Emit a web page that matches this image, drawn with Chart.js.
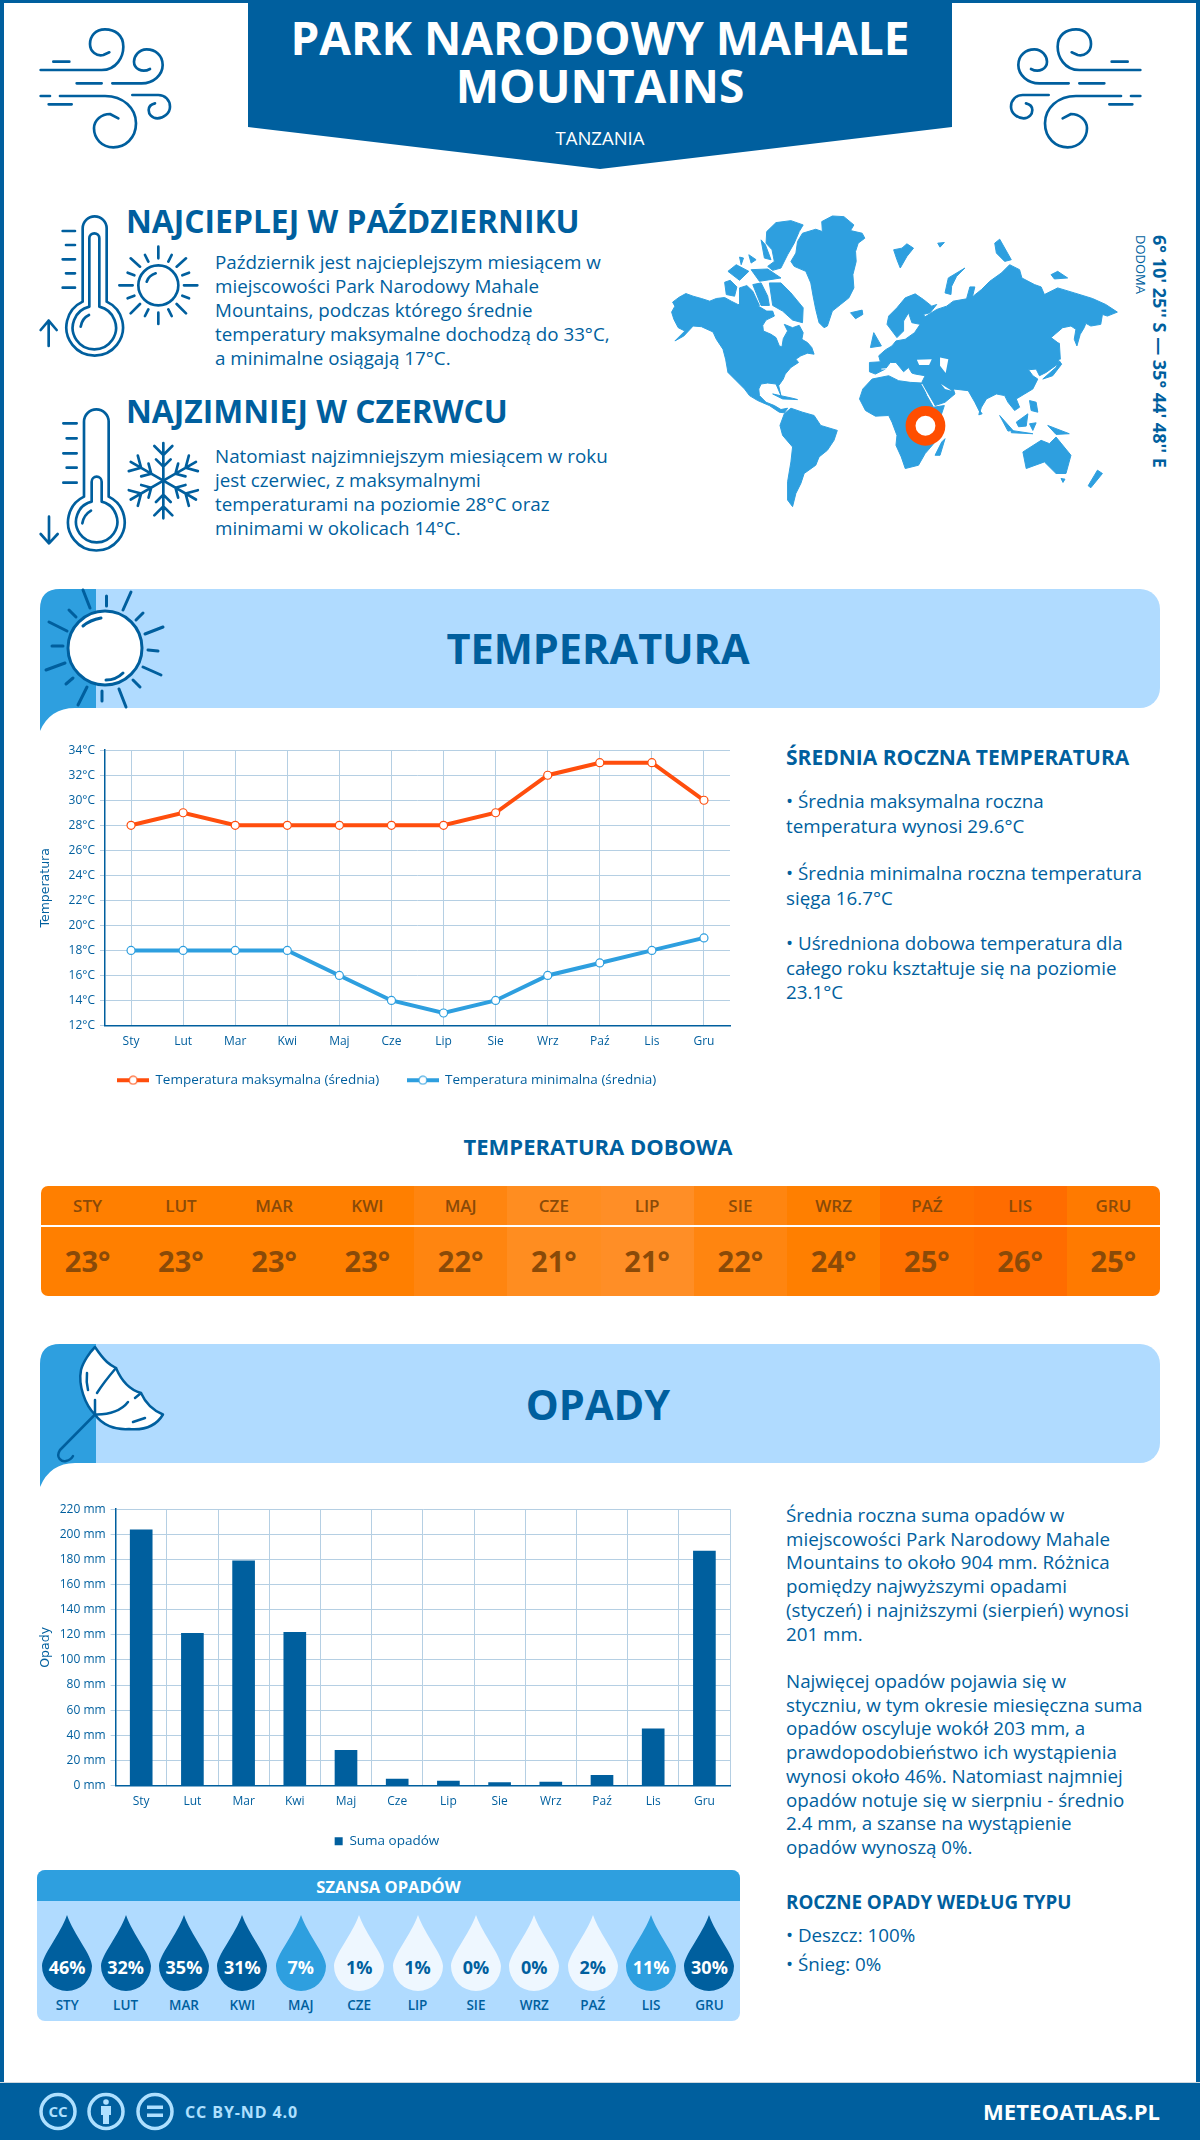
<!DOCTYPE html>
<html lang="pl">
<head>
<meta charset="UTF-8">
<title>Park Narodowy Mahale Mountains - pogoda</title>
<script src="https://cdn.jsdelivr.net/npm/chart.js@4"></script>
<style>
  html, body { margin: 0; padding: 0; background: #fff; }
  #page { position: relative; width: 1200px; height: 2140px; overflow: hidden; font-family: "Open Sans", sans-serif; color: #005f9e; }
  #page > * { position: absolute; }
  .frame { left: 0; top: 0; width: 1192px; height: 2136px; border: 4px solid #005f9e; border-top-width: 3px; }
  .nw { white-space: nowrap; }
  .title { left: 248px; width: 704px; top: 13px; text-align: center; color: #fff; font-size: 46px; line-height: 48px; font-weight: 700; }
  .country { left: 248px; width: 704px; top: 128px; text-align: center; color: #fff; font-size: 18.5px; line-height: 20px; }
  .h-month { left: 126px; font-size: 31.8px; line-height: 36px; font-weight: 700; }
  .para { left: 215px; font-size: 18.8px; line-height: 24px; }
  .band { left: 40px; width: 1120px; height: 119px; background: #b0dbff; border-radius: 20px; }
  .band-title { left: 40px; width: 1116px; text-align: center; font-size: 41.5px; line-height: 50px; font-weight: 700; }
  .side { left: 786px; font-size: 18.8px; line-height: 24.5px; }
  .side-h { left: 786px; font-size: 18.8px; line-height: 24px; font-weight: 700; }
  .sub { left: 40px; width: 1116px; text-align: center; font-size: 22px; line-height: 28px; font-weight: 700; }
  #strip { left: 41px; top: 1186px; width: 1119px; height: 110px; display: flex; border-radius: 7px; overflow: hidden; }
  #strip div.c { flex: 1; text-align: center; color: #8a4a08; position: relative; }
  #strip .m { position: absolute; left: 0; right: 0; top: 9px; font-size: 17px; line-height: 22px; font-weight: 600; }
  #strip .v { position: absolute; left: 0; right: 0; top: 55px; font-size: 29px; line-height: 40px; font-weight: 700; }
  .strip-line { left: 41px; top: 1225px; width: 1119px; height: 1.5px; background: #fff; }
  #chance { left: 37px; top: 1870px; width: 703px; height: 151px; background: #b0dbff; border-radius: 8px; overflow: hidden; }
  #chance .head { height: 31px; background: #2e9fdf; color: #fff; text-align: center; font-size: 16.5px; line-height: 33px; font-weight: 700; }
  #drops { position: absolute; left: 1px; top: 45px; width: 701px; height: 100px; display: flex; }
  #drops .d { width: 58.4px; position: relative; text-align: center; }
  #drops svg { position: absolute; left: 4.2px; top: 0; }
  #drops .p { position: absolute; left: 0; right: 0; top: 39px; font-size: 18px; line-height: 26px; font-weight: 700; }
  #drops .n { position: absolute; left: 0; right: 0; top: 81px; font-size: 13.5px; line-height: 18px; font-weight: 600; }
  .footer { left: 0; top: 2082px; width: 1200px; height: 58px; background: #005f9e; border-top: 1px solid #cfd8df; box-sizing: border-box; }
  .cc { left: 185px; top: 2100px; color: #aee0ff; font-size: 16px; line-height: 24px; font-weight: 700; letter-spacing: 0.9px; }
  .site { left: 983px; top: 2096px; color: #fff; font-size: 22px; line-height: 30px; font-weight: 700; letter-spacing: 0.1px; }
  .coord { left: 1150px; top: 235px; font-size: 18px; line-height: 20px; font-weight: 700; writing-mode: vertical-rl; }
  .capital { left: 1133px; top: 235px; font-size: 13px; line-height: 16px; writing-mode: vertical-rl; }
  svg { overflow: visible; }
  .ic { fill: none; stroke: #005f9e; stroke-linecap: round; stroke-linejoin: round; }
</style>
</head>
<body>
<div id="page">
  <div class="frame"></div>

  <!-- top banner -->
  <svg style="left:0;top:0" width="1200" height="180"><polygon points="248,0 952,0 952,127 600,169 248,127" fill="#005f9e"/></svg>
  <div class="title nw">PARK NARODOWY MAHALE<br>MOUNTAINS</div>
  <div class="country nw">TANZANIA</div>

  <svg style="left:20px;top:10px" width="160" height="150" viewBox="0 0 480 450"><use href="#wind"/></svg>
  <svg style="left:1001px;top:10px;transform:scaleX(-1)" width="160" height="150" viewBox="0 0 480 450">
    <g id="wind" class="ic" stroke-width="8">
      <path d="M62,180 H245 C290,180 310,140 310,110 C310,75 285,58 255,58 C225,58 210,80 210,102 C210,125 230,140 250,135 L268,127"/>
      <path d="M100,155 H148 M170,220 H245"/>
      <path d="M277,220 H365 C400,220 428,195 428,165 C428,135 405,118 380,118 C355,118 342,140 342,155 C342,175 365,190 390,177"/>
      <path d="M62,258 H90 M86,283 H155"/>
      <path d="M120,258 H255 C310,258 348,295 348,340 C348,385 315,412 280,412 C245,412 222,385 222,355 C222,330 245,312 270,312 L295,325"/>
      <path d="M337,255 H415 C435,255 450,270 450,290 C450,310 430,325 412,325 C395,325 386,312 386,300 C386,290 392,283 405,280"/>
    </g>
  </svg>

  <!-- hottest / coldest -->
  <svg style="left:20px;top:200px" width="200" height="370" viewBox="0 0 600 1110">
    <g class="ic" stroke-width="8">
      <path d="M188,305 V85 a36,36 0 0 1 72,0 V305 A85,85 0 1 1 188,305 Z"/>
      <path d="M208,320 V115 a15,15 0 0 1 30,0 V320 A65,65 0 1 1 208,320 Z"/>
      <path d="M182,380 Q186,355 207,345"/>
      <path d="M128,93 H165 M138,135 H165 M128,178 H165 M138,220 H165 M128,263 H165"/>
      <path d="M86,438 V362 M62,390 L86,362 L110,390"/>
      <circle cx="415" cy="256" r="60"/>
      <path d="M380,245 Q387,226 407,220"/>
      <path d="M415,140 V175 M415,338 V372 M298,256 H338 M492,256 H532 M332,175 L360,200 M498,175 L470,200 M332,340 L360,312 M498,340 L470,312"/>
      <path d="M375,165 L385,185 M455,165 L445,185 M323,218 L343,226 M507,218 L487,226 M323,295 L343,287 M507,295 L487,287 M375,348 L385,328 M455,348 L445,328"/>
      <path d="M192,890 V665 a37,37 0 0 1 74,0 V890 A85,85 0 1 1 192,890 Z"/>
      <path d="M215,905 V845 a15,15 0 0 1 30,0 V905 A62,62 0 1 1 215,905 Z"/>
      <path d="M187,970 Q191,945 213,932"/>
      <path d="M130,670 H170 M140,715 H170 M130,760 H170 M140,803 H170 M130,848 H170"/>
      <path d="M87,950 V1030 M62,1002 L87,1030 L113,1002"/>
      <g transform="translate(430,842)">
        <g id="arm"><path d="M0,0 V-113 M-27,-104 L0,-77 L27,-104 M-22,-64 L0,-42 L22,-64"/></g>
        <use href="#arm" transform="rotate(60)"/><use href="#arm" transform="rotate(120)"/><use href="#arm" transform="rotate(180)"/><use href="#arm" transform="rotate(240)"/><use href="#arm" transform="rotate(300)"/>
      </g>
    </g>
  </svg>
  <div class="h-month nw" style="top:203px">NAJCIEPLEJ W PAŹDZIERNIKU</div>
  <div class="para nw" style="top:250px">Październik jest najcieplejszym miesiącem w<br>miejscowości Park Narodowy Mahale<br>Mountains, podczas którego średnie<br>temperatury maksymalne dochodzą do 33°C,<br>a minimalne osiągają 17°C.</div>
  <div class="h-month nw" style="top:393px">NAJZIMNIEJ W CZERWCU</div>
  <div class="para nw" style="top:444px">Natomiast najzimniejszym miesiącem w roku<br>jest czerwiec, z maksymalnymi<br>temperaturami na poziomie 28°C oraz<br>minimami w okolicach 14°C.</div>

  <!-- world map -->
  <svg style="left:660px;top:200px" width="517" height="315" viewBox="0 0 1560 950">
    <g fill="#2e9fdf" stroke="#2e9fdf" stroke-width="3" stroke-linejoin="round">
      <path d="M35,338 L45,320 L38,308 L58,293 L78,282 L100,290 L125,297 L150,305 L170,297 L195,294 L215,305 L235,315 L262,318 L270,308 L300,322 L322,335 L340,335 L345,350 L320,362 L310,378 L312,395 L335,405 L350,415 L360,440 L368,443 L372,418 L385,395 L375,375 L400,385 L420,378 L432,400 L428,420 L445,430 L458,445 L465,465 L445,462 L425,470 L410,480 L418,490 L395,505 L378,525 L372,540 L358,560 L365,590 L350,555 L325,552 L305,555 L298,570 L300,590 L320,610 L345,620 L365,632 L385,628 L375,642 L360,640 L330,620 L295,605 L270,590 L255,570 L230,545 L205,520 L198,480 L190,450 L170,420 L160,398 L125,382 L100,380 L72,410 L45,425 L75,395 L55,385 L42,360 Z"/>
      <path d="M395,185 L410,160 L415,125 L430,100 L470,88 L490,95 L488,65 L520,48 L555,50 L585,75 L575,92 L610,100 L618,115 L598,130 L590,155 L592,185 L582,225 L585,265 L570,295 L545,315 L520,335 L505,380 L495,385 L480,370 L470,330 L462,290 L455,250 L440,215 L405,200 Z"/>
      <path d="M322,95 L350,68 L395,62 L432,75 L420,95 L405,130 L385,165 L365,205 L340,212 L325,200 L345,185 L338,150 L320,130 Z"/>
      <path d="M330,250 L365,250 L395,280 L432,325 L430,370 L400,362 L370,335 L340,318 Z"/>
      <path d="M305,120 L318,135 L335,180 L315,175 Z M195,248 L212,242 L232,262 L225,290 L200,285 Z M240,265 L262,258 L280,275 L300,318 L240,318 Z M205,215 L230,195 L268,215 L240,242 Z M275,210 L325,208 L365,235 L300,245 Z M280,255 L305,250 L325,290 L330,318 L305,318 Z M240,172 L252,175 L245,195 Z M268,165 L290,180 L275,190 Z"/>
      <path d="M575,340 L610,332 L612,345 L590,358 Z"/>
      <path d="M705,150 L730,145 L745,132 L765,145 L745,170 L725,205 L715,180 Z M838,130 L858,128 L845,142 Z"/>
      <path d="M860,280 L870,235 L920,205 L895,230 L880,260 L878,285 Z"/>
      <path d="M1010,130 L1025,118 L1060,180 L1040,185 L1015,160 Z M1180,225 L1200,215 L1230,235 L1190,238 Z"/>
      <path d="M685,375 L690,350 L715,325 L740,295 L770,283 L795,300 L820,320 L835,315 L815,340 L795,345 L800,352 L835,330 L865,320 L885,305 L925,298 L935,262 L950,262 L942,295 L945,290 L970,270 L995,245 L1030,220 L1055,195 L1085,210 L1092,235 L1130,255 L1150,262 L1160,285 L1200,265 L1250,280 L1305,297 L1345,315 L1380,338 L1350,350 L1335,345 L1330,375 L1300,380 L1285,372 L1280,385 L1268,405 L1258,440 L1250,420 L1255,390 L1240,380 L1215,385 L1180,415 L1200,430 L1205,470 L1200,495 L1165,520 L1145,530 L1135,510 L1112,512 L1125,530 L1140,540 L1125,570 L1100,585 L1075,600 L1085,625 L1070,635 L1050,610 L1040,590 L1015,585 L985,600 L970,625 L965,640 L950,610 L930,575 L885,570 L890,585 L860,610 L830,620 L800,570 L790,550 L800,530 L770,525 L760,522 L750,505 L735,518 L712,490 L695,490 L680,510 L650,525 L632,518 L632,490 L665,488 L660,470 L680,452 L700,440 L712,425 L740,420 L768,400 L785,375 L760,370 L750,340 L735,365 L735,395 L715,415 L700,395 Z"/>
      <path d="M645,400 L668,440 L635,445 Z"/>
      <path d="M602,600 L612,570 L640,540 L690,530 L720,545 L755,550 L790,552 L805,590 L825,625 L858,620 L848,650 L850,700 L830,730 L800,765 L780,800 L740,810 L728,775 L712,740 L715,710 L700,670 L690,650 L650,652 L620,635 Z"/>
      <path d="M850,730 L860,720 L845,770 L830,770 Z"/>
      <path d="M362,680 L375,645 L395,628 L430,640 L465,650 L485,680 L535,695 L525,725 L505,755 L480,775 L470,800 L435,825 L425,855 L410,885 L400,925 L385,905 L385,850 L395,790 L400,745 L370,710 Z"/>
      <path d="M1155,540 L1195,505 L1205,485 L1212,495 L1185,530 Z M1195,430 L1205,432 L1208,480 L1200,480 Z"/>
      <path d="M1115,605 L1135,610 L1140,640 L1120,635 Z M1075,670 L1110,645 L1105,682 L1082,684 Z M1025,650 L1065,695 L1050,697 Z M1060,695 L1125,705 L1060,702 Z M1115,675 L1135,672 L1125,695 Z M1170,680 L1235,705 L1195,707 Z M965,635 L972,645 L962,648 Z"/>
      <path d="M1095,760 L1150,725 L1175,735 L1195,715 L1240,770 L1225,825 L1195,825 L1160,790 L1105,810 Z M1210,840 L1222,842 L1216,852 Z M1320,815 L1335,825 L1300,868 L1292,862 Z"/>
      <path d="M340,585 L400,598 L415,602 L370,600 Z"/>
    </g>
    <g fill="#fff"><path d="M775,482 L820,480 L812,498 L782,498 Z M845,475 L870,480 L862,522 L845,500 Z M848,555 L880,575 L860,570 Z"/></g>
    <g fill="none" stroke="#fff" stroke-width="3"><path d="M790,555 L826,618"/><path d="M668,510 L700,508 L725,520 L745,540"/></g>
    <circle cx="801" cy="681" r="45" fill="#fff" stroke="#ff4e00" stroke-width="30"/>
  </svg>
  <div class="coord nw">6° 10' 25'' S — 35° 44' 48'' E</div>
  <div class="capital nw">DODOMA</div>

  <!-- temperature -->
  <div class="band" style="top:589px"></div>
  <svg style="left:0;top:580px" width="200" height="160" viewBox="0 580 200 160">
    <path d="M40,731 V609 Q40,589 60,589 H96 V708 H75 Q50,708 40,731 Z" fill="#2e9fdf"/>
    <circle cx="105" cy="648" r="37" fill="#fff" stroke="#005f9e" stroke-width="3"/>
    <g class="ic" stroke-width="3">
      <path d="M83,590 L90,608 M131,592 L123,610 M163,627 L145,634 M161,675 L143,667 M126,707 L119,689 M78,705 L87,687 M46,670 L65,663 M49,622 L67,631"/>
      <path d="M106.5,596 V606 M143,613 L136,620 M148,650 L158,651 M133,680 L140,687 M102,691 V701 M73,678 L66,684 M63,646 H52 M76,617 L69,610"/>
      <path d="M83,626 Q90,620 101,618 M106,680 Q116,680 123,673"/>
    </g>
  </svg>
  <div class="band-title nw" style="top:623px">TEMPERATURA</div>
  <canvas id="tempChart" style="left:20px;top:738px" width="758" height="366"></canvas>
  <div class="side-h nw" style="top:745px;font-size:21px">ŚREDNIA ROCZNA TEMPERATURA</div>
  <div class="side nw" style="top:789px">• Średnia maksymalna roczna<br>temperatura wynosi 29.6°C</div>
  <div class="side nw" style="top:861px">• Średnia minimalna roczna temperatura<br>sięga 16.7°C</div>
  <div class="side nw" style="top:931px">• Uśredniona dobowa temperatura dla<br>całego roku kształtuje się na poziomie<br>23.1°C</div>

  <div class="sub nw" style="top:1132px">TEMPERATURA DOBOWA</div>
  <div id="strip"></div>
  <div class="strip-line"></div>

  <!-- rain -->
  <div class="band" style="top:1344px"></div>
  <svg style="left:0;top:1330px" width="200" height="170" viewBox="0 1330 200 170">
    <path d="M40,1487 V1364 Q40,1344 60,1344 H96 V1463 H75 Q50,1463 40,1487 Z" fill="#2e9fdf"/>
    <g class="ic" stroke-width="2.5">
      <path d="M95,1347 C105,1362 110,1365 116,1368 C122,1382 130,1390 141,1393 C145,1402 152,1410 163,1414.5 C155,1428 140,1430 129,1429 C115,1430 102,1425 95,1414.5 C85,1405 78,1385 81,1370 C83,1362 90,1352 95,1347 Z" fill="#fff"/>
      <path d="M116,1368 Q104,1382 97,1393 M95,1400 V1414.5 M95,1414.5 C110,1415 122,1410 128,1402 M135,1398 L141,1393 M87,1373 Q86,1382 88,1390 M133,1422 L145,1418"/>
      <path d="M95,1414.5 L60,1450 C55,1458 62,1462 66,1461 C70,1460 72,1458 73,1456"/>
    </g>
  </svg>
  <div class="band-title nw" style="top:1379px">OPADY</div>
  <canvas id="rainChart" style="left:20px;top:1497px" width="758" height="368"></canvas>
  <div class="side nw" style="top:1504px;line-height:23.7px">Średnia roczna suma opadów w<br>miejscowości Park Narodowy Mahale<br>Mountains to około 904 mm. Różnica<br>pomiędzy najwyższymi opadami<br>(styczeń) i najniższymi (sierpień) wynosi<br>201 mm.</div>
  <div class="side nw" style="top:1670px;line-height:23.7px">Najwięcej opadów pojawia się w<br>styczniu, w tym okresie miesięczna suma<br>opadów oscyluje wokół 203 mm, a<br>prawdopodobieństwo ich wystąpienia<br>wynosi około 46%. Natomiast najmniej<br>opadów notuje się w sierpniu - średnio<br>2.4 mm, a szanse na wystąpienie<br>opadów wynoszą 0%.</div>
  <div class="side-h nw" style="top:1890px">ROCZNE OPADY WEDŁUG TYPU</div>
  <div class="side nw" style="top:1923px">• Deszcz: 100%</div>
  <div class="side nw" style="top:1952px">• Śnieg: 0%</div>

  <div id="chance">
    <div class="head">SZANSA OPADÓW</div>
    <div id="drops"></div>
  </div>

  <!-- footer -->
  <div class="footer"></div>
  <svg style="left:0;top:2082px" width="200" height="58" viewBox="0 2082 200 58">
    <g fill="none" stroke="#aee0ff" stroke-width="3.5">
      <circle cx="58" cy="2111.5" r="17"/><circle cx="106" cy="2111.5" r="17"/><circle cx="155" cy="2111.5" r="17"/>
    </g>
    <g fill="#aee0ff">
      <circle cx="106" cy="2102" r="2.8"/><path d="M101,2106 H111 V2115 H109 V2124 H103 V2115 H101 Z"/>
      <rect x="147" y="2105.5" width="16" height="3.5"/><rect x="147" y="2113.5" width="16" height="3.5"/>
    </g>
    <text x="58" y="2117" text-anchor="middle" fill="#aee0ff" font-size="15" font-weight="700" font-family="Open Sans">CC</text>
  </svg>
  <div class="cc nw">CC BY-ND 4.0</div>
  <div class="site nw">METEOATLAS.PL</div>
</div>

<script>
  const months = ['Sty', 'Lut', 'Mar', 'Kwi', 'Maj', 'Cze', 'Lip', 'Sie', 'Wrz', 'Paź', 'Lis', 'Gru'];
  const tempMax = [28, 29, 28, 28, 28, 28, 28, 29, 32, 33, 33, 30];
  const tempMin = [18, 18, 18, 18, 16, 14, 13, 14, 16, 17, 18, 19];
  const tempDaily = [23, 23, 23, 23, 22, 21, 21, 22, 24, 25, 26, 25];
  const rainTotal = [203.5, 121.2, 178.9, 122, 28.1, 5.1, 3.5, 2.4, 2.7, 8.1, 45.2, 186.7];
  const rainChance = [46, 32, 35, 31, 7, 1, 1, 0, 0, 2, 11, 30];

  const stripColors = ['#ff7f00', '#ff7f00', '#ff7f00', '#ff7f00', '#ff8510', '#ff8d20', '#ff8e26', '#ff8510', '#ff7f00', '#ff7000', '#ff6c00', '#ff7a00'];

  const DARK = '#005f9e';
  const BLUE = '#2e9fdf';
  const RED = '#ff4e0d';
  const GRID = '#b5cfe3';
  const FONT = '"Open Sans", sans-serif';

  Chart.defaults.font.family = FONT;
  Chart.defaults.color = DARK;

  // nudge the legend: it sits right of the plot centre, and overlaps the
  // taller x scale (labels get clipped to the scale box, so it has to be tall)
  const shiftLegend = {
    id: 'shiftLegend',
    afterLayout(chart) {
      chart.legend.left += 12;
      chart.legend.right += 12;
      chart.legend.top -= 7;
      chart.legend.bottom -= 7;
    }
  };

  // line + dot shown in the legend of the temperature chart
  function legendMark(color) {
    const c = document.createElement('canvas');
    c.width = 32;
    c.height = 10;
    const g = c.getContext('2d');
    g.fillStyle = color;
    g.fillRect(0, 3, 32, 4);
    g.beginPath();
    g.arc(16, 5, 4, 0, Math.PI * 2);
    g.fillStyle = '#fff';
    g.fill();
    g.lineWidth = 1.2;
    g.strokeStyle = color;
    g.stroke();
    return c;
  }
  const legendMarks = [legendMark(RED), legendMark(BLUE)];

  function yScale(min, max, step, title, unit, width) {
    return {
      min: min,
      max: max,
      afterFit: s => { s.width = width; },
      ticks: { stepSize: step, padding: 5, color: DARK, font: { size: 12 }, callback: v => v + unit },
      grid: { color: GRID, lineWidth: 1, tickLength: 5 },
      border: { color: DARK, width: 1.5 },
      title: { display: true, text: title, color: DARK, font: { family: '"DejaVu Sans"', size: 12.5 }, padding: { top: 18, bottom: 0 } }
    };
  }

  function xScale(gridColor, height) {
    return {
      afterFit: s => { s.height = height; },
      ticks: { padding: 9, color: DARK, font: { size: 12 }, maxRotation: 0 },
      grid: { color: gridColor, lineWidth: 1, drawTicks: false },
      border: { color: DARK, width: 1.5 }
    };
  }

  new Chart(document.getElementById('tempChart'), {
    type: 'line',
    plugins: [shiftLegend],
    data: {
      labels: months,
      datasets: [
        { label: 'Temperatura maksymalna (średnia)', data: tempMax, borderColor: RED, backgroundColor: RED, borderWidth: 4, tension: 0, pointRadius: 4, pointBorderWidth: 1.2, pointBackgroundColor: '#fff', pointBorderColor: RED },
        { label: 'Temperatura minimalna (średnia)', data: tempMin, borderColor: BLUE, backgroundColor: BLUE, borderWidth: 4, tension: 0, pointRadius: 4, pointBorderWidth: 1.2, pointBackgroundColor: '#fff', pointBorderColor: BLUE }
      ]
    },
    options: {
      responsive: false,
      animation: false,
      layout: { padding: { top: 10, right: 48, left: 0, bottom: 0 } },
      scales: {
        x: Object.assign(xScale(GRID, 27), { offset: true }),
        y: yScale(12, 34, 2, 'Temperatura', '°C', 85)
      },
      plugins: {
        tooltip: { enabled: false },
        legend: {
          position: 'bottom',
          labels: {
            usePointStyle: true,
            pointStyleWidth: 31,
            padding: 28,
            color: DARK,
            font: { size: 13.5 },
            generateLabels(chart) {
              const items = Chart.defaults.plugins.legend.labels.generateLabels(chart);
              items.forEach((item, i) => { item.pointStyle = legendMarks[i]; });
              return items;
            }
          }
        }
      }
    }
  });

  new Chart(document.getElementById('rainChart'), {
    type: 'bar',
    plugins: [shiftLegend],
    data: {
      labels: months,
      datasets: [
        { label: 'Suma opadów', data: rainTotal, backgroundColor: DARK, barThickness: 22 }
      ]
    },
    options: {
      responsive: false,
      animation: false,
      layout: { padding: { top: 10.5, right: 48, left: 0, bottom: 0 } },
      scales: {
        x: xScale(c => (c.index >= 12 || c.index === 0 ? 'transparent' : GRID), 28),
        y: yScale(0, 220, 20, 'Opady', ' mm', 95.6)
      },
      plugins: {
        tooltip: { enabled: false },
        legend: {
          position: 'bottom',
          labels: { boxWidth: 8, boxHeight: 8, padding: 28, color: DARK, font: { size: 13.5 } }
        }
      }
    }
  });

  // daily temperature strip
  document.getElementById('strip').innerHTML = months.map((m, i) =>
    `<div class="c" style="background:${stripColors[i]}"><div class="m">${m.toUpperCase()}</div><div class="v">${tempDaily[i]}°</div></div>`
  ).join('');

  // chance of rain drops
  function dropColor(v) {
    if (v >= 30) return DARK;
    if (v >= 5) return BLUE;
    return '#eef7ff';
  }
  document.getElementById('drops').innerHTML = months.map((m, i) => {
    const v = rainChance[i];
    const txt = v >= 5 ? '#fff' : DARK;
    return `<div class="d"><svg width="50" height="76" viewBox="0 0 50 76"><path d="M25,0 C32,20 50,40 50,51 A25,25 0 0 1 0,51 C0,40 18,20 25,0 Z" fill="${dropColor(v)}"/></svg>` +
      `<div class="p" style="color:${txt}">${v}%</div><div class="n">${m.toUpperCase()}</div></div>`;
  }).join('');
</script>
</body>
</html>
